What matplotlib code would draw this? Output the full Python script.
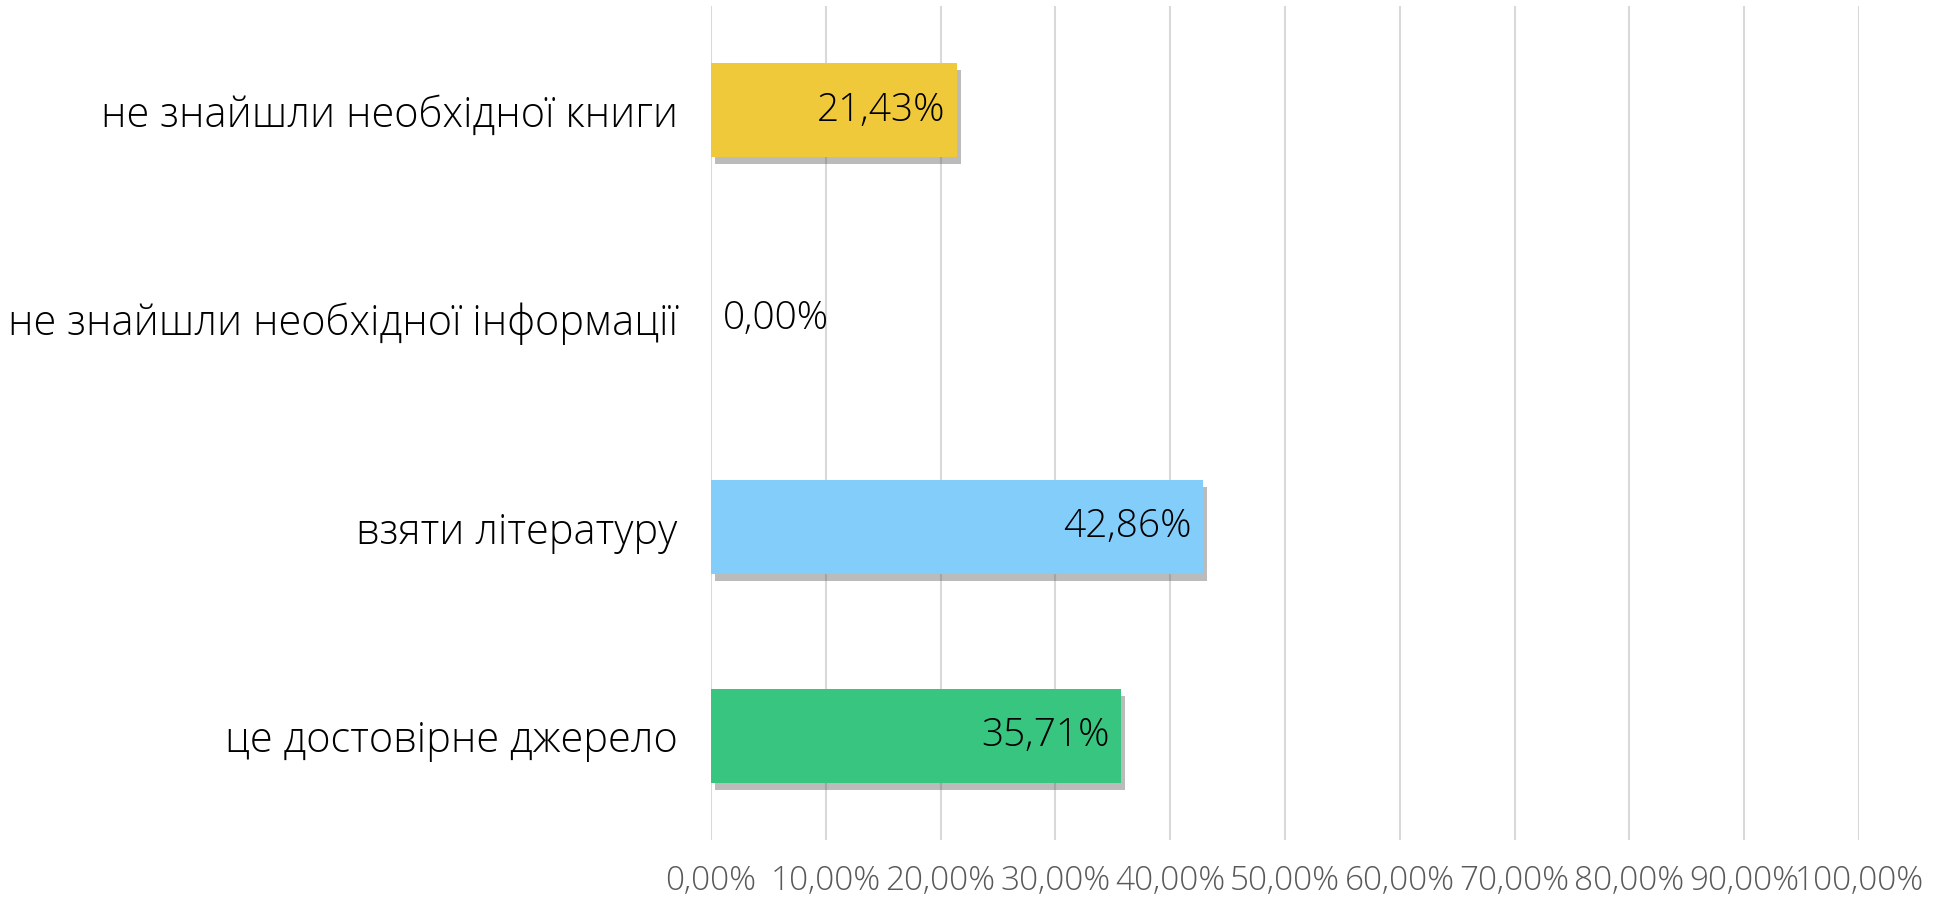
import matplotlib.pyplot as plt
import matplotlib.patheffects as pe
import matplotlib.ticker as ticker

plt.rcParams["font.family"] = ["Open Sans", "DejaVu Sans"]

categories = [
    "не знайшли необхідної книги",
    "не знайшли необхідної інформації",
    "взяти літературу",
    "це достовірне джерело",
]
values = [21.43, 0.00, 42.86, 35.71]
colors = ["#F0C93A", "#F0C93A", "#82CDF9", "#38C580"]

fig = plt.figure(figsize=(19.38, 8.99), dpi=100)
ax = fig.add_axes([711 / 1938, 1 - 840 / 899, (1859 - 711) / 1938, (840 - 6) / 899])

ypos = list(range(len(categories)))
bars = ax.barh(ypos, values, height=0.45, color=colors, zorder=3)
for b in bars:
    if b.get_width() > 0:
        b.set_path_effects([pe.SimplePatchShadow(offset=(3, -5), shadow_rgbFace="#555555", alpha=0.4),
                            pe.Normal()])

for y, v in zip(ypos, values):
    label = f"{v:.2f}%".replace(".", ",")
    if v > 0:
        ax.text(v - 1.0, y, label, ha="right", va="center", fontsize=28,
                fontweight="light", color="black", zorder=4)
    else:
        ax.text(1.0, y, label, ha="left", va="center", fontsize=28,
                fontweight="light", color="black", zorder=4)

ax.set_ylim(len(categories) - 0.5, -0.5)
ax.set_xlim(0, 100)
ax.set_yticks(ypos)
ax.set_yticklabels(categories, fontsize=30, fontweight="light", color="black")
ax.xaxis.set_major_locator(ticker.MultipleLocator(10))
ax.xaxis.set_major_formatter(ticker.FuncFormatter(lambda x, p: f"{x:.2f}%".replace(".", ",")))
for t in ax.get_xticklabels():
    t.set_fontweight("light")
ax.tick_params(axis="x", labelsize=24, labelcolor="#595959", length=0, pad=18)
ax.tick_params(axis="y", length=0, pad=24)
ax.grid(True, axis="x", color="#D9D9D9", linewidth=1.5, zorder=0)
for s in ax.spines.values():
    s.set_visible(False)

fig.savefig("out.png", dpi=100)
